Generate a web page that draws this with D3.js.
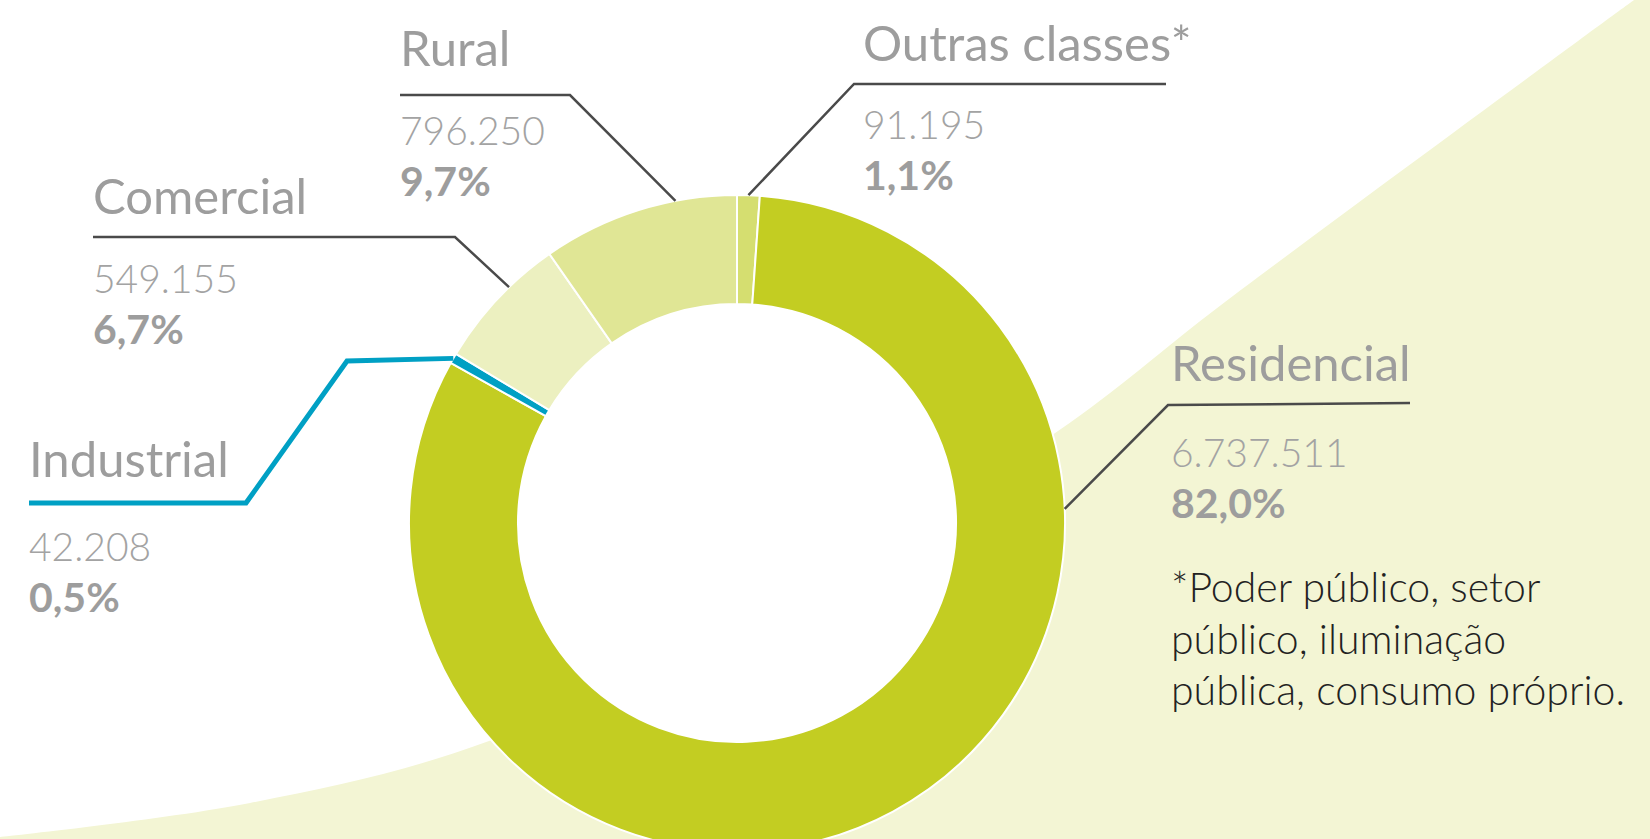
<!DOCTYPE html>
<html>
<head>
<meta charset="utf-8">
<script src="https://cdn.jsdelivr.net/npm/d3@7"></script>
<style>
html, body { margin: 0; padding: 0; background: #fff; overflow: hidden; }
</style>
</head>
<body>
<div id="chart"></div>
<script>
// Consumer classes, in drawing order (clockwise from 12 o'clock)
var classes = ["Outras classes*", "Residencial", "Industrial", "Comercial", "Rural"];
var consumers = [91195, 6737511, 42208, 549155, 796250];
var sliceColors = ["#d5de70", "#c3cd22", "#00a0c4", "#ecf0c0", "#e0e695"];
var footnote = ["*Poder público, setor", "público, iluminação", "pública, consumo próprio."];

// where each label sits and how its leader line is bent
var labelLayout = {
	"Outras classes*": { x: 863, y: 61, vy: 139, line: [[1166, 84], [854, 84]], at: 0.5, stroke: "#4a4a4a", sw: 2.5 },
	"Residencial":     { x: 1171, y: 381, vy: 467, line: [[1410, 403], [1168, 405]], at: 0.283, stroke: "#4a4a4a", sw: 2.5 },
	"Industrial":      { x: 29, y: 477, vy: 561, line: [[29, 503], [246, 503], [347, 361]], at: 0.5, stroke: "#00a0c4", sw: 5 },
	"Comercial":       { x: 93, y: 214, vy: 293, line: [[93, 237], [455, 237]], at: 0.62, stroke: "#4a4a4a", sw: 2.5 },
	"Rural":           { x: 400, y: 66, vy: 145, line: [[400, 95], [570, 95]], at: 0.69, stroke: "#4a4a4a", sw: 2.5 }
};

var width = 1650, height = 839;
var cx = 737, cy = 523, outerR = 328, innerR = 219;

var ptBR = d3.formatLocale({ decimal: ",", thousands: ".", grouping: [3], currency: ["R$", ""] });
var fmtNum = ptBR.format(",d");
var fmtPct = ptBR.format(".1%");

var svg = d3.select("#chart")
			.append("svg")
			.attr("width", width)
			.attr("height", height);

// pale backdrop curve
var backdrop = [[0, 837], [250, 803], [489, 741], [780, 598], [1058, 431], [1225, 302], [1634, 0]];
var curve = d3.line().curve(d3.curveCatmullRom.alpha(0.5));
svg.append("path")
	.attr("d", curve(backdrop) + "L" + width + ",0L" + width + "," + height + "L0," + height + "Z")
	.attr("fill", "#f3f5d4");

var data = classes.map(function(c, i){ return { name: c, value: consumers[i], color: sliceColors[i] }; });
var total = d3.sum(consumers);

var pie = d3.pie()
			.sort(null)
			.value(function(d){ return d.value; });
var arcs = pie(data);

var arc = d3.arc().innerRadius(innerR).outerRadius(outerR);

var donut = svg.append("g")
			.attr("transform", "translate(" + cx + "," + cy + ")");

// white hole in the middle
donut.append("circle")
	.attr("r", innerR)
	.attr("fill", "#fff");

donut.selectAll("path")
	.data(arcs)
	.enter()
	.append("path")
	.attr("d", arc)
	.attr("fill", function(d){ return d.data.color; })
	.attr("stroke", "#fff")
	.attr("stroke-width", 2);

// leader lines
var line = d3.line();
arcs.forEach(function(a){
	var L = labelLayout[a.data.name];
	var ang = a.startAngle + L.at * (a.endAngle - a.startAngle);
	var end = [cx + outerR * Math.sin(ang), cy - outerR * Math.cos(ang)];
	svg.append("path")
		.attr("d", line(L.line.concat([end])))
		.attr("fill", "none")
		.attr("stroke", L.stroke)
		.attr("stroke-width", L.sw)
		.attr("stroke-linejoin", "miter");
});

// texts
var font = "Lato, 'Open Sans', sans-serif";
arcs.forEach(function(a){
	var L = labelLayout[a.data.name];
	svg.append("text")
		.attr("x", L.x).attr("y", L.y)
		.attr("font-family", font)
		.attr("font-size", 49)
		.attr("fill", "#9d9d9d")
		.text(a.data.name);
	svg.append("text")
		.attr("x", L.x).attr("y", L.vy)
		.attr("font-family", font)
		.attr("font-size", 39)
		.attr("font-weight", 300)
		.attr("fill", "#a3a3a3")
		.text(fmtNum(a.data.value));
	svg.append("text")
		.attr("x", L.x).attr("y", L.vy + 51)
		.attr("font-family", font)
		.attr("font-size", 41)
		.attr("font-weight", 700)
		.attr("fill", "#9d9d9d")
		.text(fmtPct(a.data.value / total));
});

svg.append("text")
	.attr("font-family", font)
	.attr("font-size", 41)
	.attr("font-weight", 300)
	.attr("fill", "#222")
	.selectAll("tspan")
	.data(footnote)
	.enter()
	.append("tspan")
	.attr("x", 1171)
	.attr("y", function(d, i){ return 602 + i * 51.5; })
	.text(function(d){ return d; });
</script>
</body>
</html>
